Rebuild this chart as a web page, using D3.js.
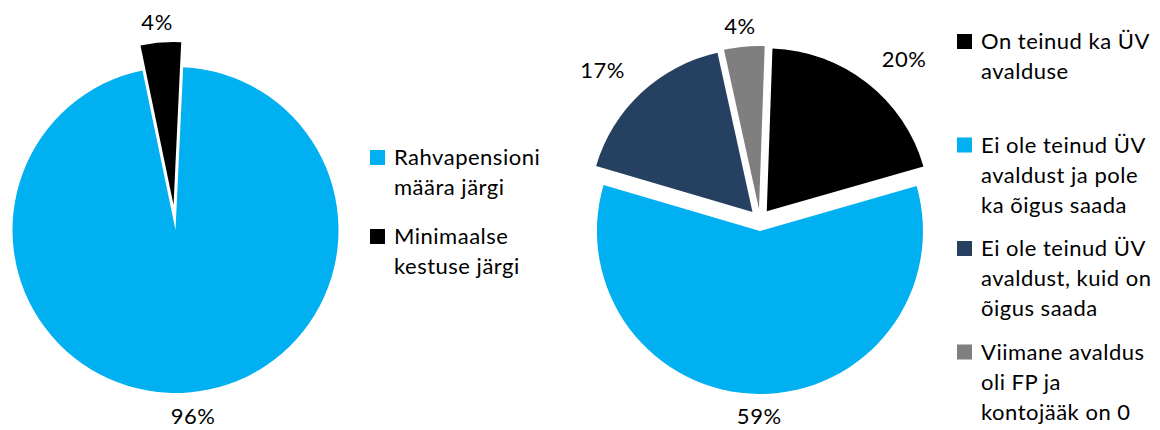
<!DOCTYPE html>
<html><head><meta charset="utf-8">
<script src="https://cdn.jsdelivr.net/npm/d3@7"></script>
<style>
html,body{margin:0;padding:0;background:#fff;}
svg{display:block;}
text{font-family:Lato,"Open Sans",sans-serif;font-size:22px;letter-spacing:0.5px;fill:#000;}
</style></head><body>
<svg id="chart" width="1160" height="430"></svg>
<script>
// ---- data ----
const leftCategories = ["Rahvapensioni määra järgi", "Minimaalse kestuse järgi"];
const leftLegendLines = [["Rahvapensioni", "määra järgi"], ["Minimaalse", "kestuse järgi"]];
const leftValues = [96, 4];
const leftLabels = ["96%", "4%"];

const rightCategories = [
  "On teinud ka ÜV avalduse",
  "Ei ole teinud ÜV avaldust ja pole ka õigus saada",
  "Ei ole teinud ÜV avaldust, kuid on õigus saada",
  "Viimane avaldus oli FP ja kontojääk on 0"
];
const rightLegendLines = [
  ["On teinud ka ÜV", "avalduse"],
  ["Ei ole teinud ÜV", "avaldust ja pole", "ka õigus saada"],
  ["Ei ole teinud ÜV", "avaldust, kuid on", "õigus saada"],
  ["Viimane avaldus", "oli FP ja", "kontojääk on 0"]
];
const rightValues = [20, 59, 17, 4];
const rightLabels = ["20%", "59%", "17%", "4%"];

// ---- styles / layout ----
const leftColors = ["#00B0F0", "#000000"];
const rightColors = ["#000000", "#00B0F0", "#254061", "#7F7F7F"];

const H = 430;
const svg = d3.select("#chart");
const deg = Math.PI / 180;

function drawPie(cfg) {
  const g = svg.append("g").attr("transform", `translate(${cfg.cx},${cfg.cy})`);
  const pie = d3.pie().sort(null).value(d => d)
    .startAngle(cfg.start * deg).endAngle(cfg.start * deg + 2 * Math.PI);
  const arc = d3.arc().innerRadius(0).outerRadius(cfg.r);
  const arcs = pie(cfg.values);
  const color = d3.scaleOrdinal().domain(d3.range(cfg.values.length)).range(cfg.colors);
  arcs.forEach((a, i) => {
    const mid = (a.startAngle + a.endAngle) / 2;
    const e = cfg.explode[i];
    const ox = e * Math.sin(mid), oy = -e * Math.cos(mid);
    const sg = g.append("g").attr("transform", `translate(${ox},${oy})`);
    sg.append("path").attr("d", arc(a)).attr("fill", color(i));
    // label: outside end
    const t = sg.append("text").text(cfg.labels[i]).attr("text-anchor", "middle");
    const w = t.node().getComputedTextLength() / 2;
    const h = 9;
    const s = Math.sin(mid), c = Math.cos(mid);
    const R = cfg.r + 14 + 10 * Math.abs(Math.sin(2 * mid));
    const clamp = v => Math.max(-1, Math.min(1, v));
    const lx = R * s + w * clamp(2 * s);
    let ly = -R * c - h * clamp(2 * c) + 4;
    // keep the label inside the picture
    const maxY = H - 14 - cfg.cy - oy;
    ly = Math.min(ly, maxY);
    t.attr("x", lx).attr("y", ly).attr("dy", "0.36em");
  });
}

function drawLegend(cfg) {
  const g = svg.append("g");
  cfg.lines.forEach((lines, i) => {
    const base = cfg.y0 + i * cfg.step;
    g.append("rect").attr("x", cfg.x).attr("y", base - 15).attr("width", 15).attr("height", 15)
      .attr("fill", cfg.colors[i]);
    const t = g.append("text").attr("x", cfg.x + 24).attr("y", base);
    lines.forEach((ln, j) => {
      t.append("tspan").attr("x", cfg.x + 24).attr("y", base + j * 30).text(ln);
    });
  });
}

drawPie({cx: 175.5, cy: 230, r: 163, values: leftValues, colors: leftColors,
  start: 2.7, explode: [0, 25], labels: leftLabels});
drawPie({cx: 760, cy: 220, r: 163, values: rightValues, colors: rightColors,
  start: 2, explode: [11, 11, 11, 11], labels: rightLabels});

drawLegend({x: 370, y0: 165, step: 79, lines: leftLegendLines, colors: leftColors});
drawLegend({x: 957, y0: 49, step: 103.5, lines: rightLegendLines, colors: rightColors});
</script>
</body></html>
